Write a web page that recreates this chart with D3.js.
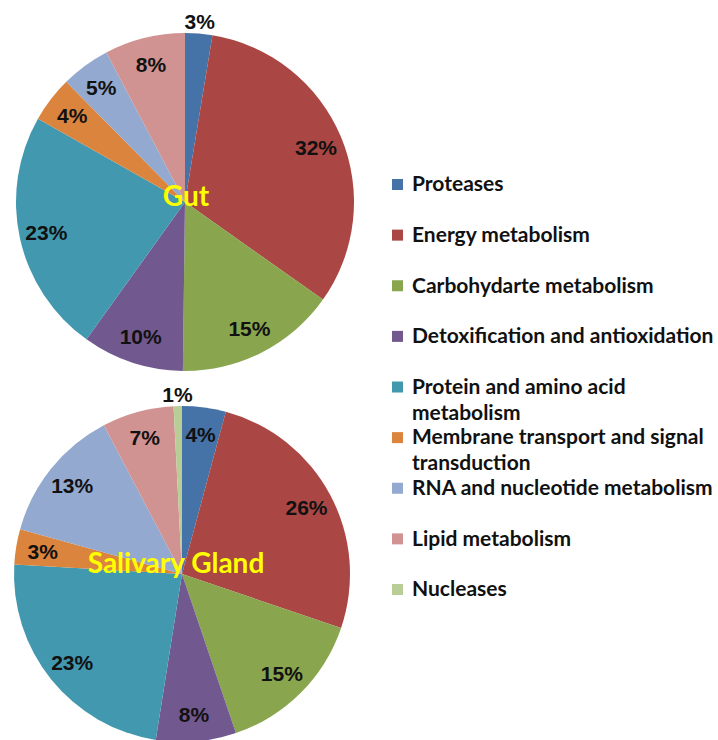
<!DOCTYPE html>
<html>
<head>
<meta charset="utf-8">
<script src="https://cdn.jsdelivr.net/npm/d3@7/dist/d3.min.js"></script>
<style>
  html, body { margin: 0; padding: 0; background: #fff; }
  svg { display: block; }
</style>
</head>
<body>
<svg id="chart" width="718" height="740"></svg>
<script>
// ---- data ----
const categories = [
  "Proteases",
  "Energy metabolism",
  "Carbohydarte metabolism",
  "Detoxification and antioxidation",
  "Protein and amino acid metabolism",
  "Membrane transport and signal transduction",
  "RNA and nucleotide metabolism",
  "Lipid metabolism",
  "Nucleases"
];
const legendLines = [
  ["Proteases"],
  ["Energy metabolism"],
  ["Carbohydarte metabolism"],
  ["Detoxification and antioxidation"],
  ["Protein and amino acid", "metabolism"],
  ["Membrane transport and signal", "transduction"],
  ["RNA and nucleotide metabolism"],
  ["Lipid metabolism"],
  ["Nucleases"]
];
const colors = ["#4572A7", "#AA4643", "#89A54E", "#71588F", "#4198AF", "#DB843D", "#93A9CF", "#D19392", "#B9CD96"];
const gutValues = [2.6, 32.2, 15.4, 9.7, 23.3, 4.4, 4.7, 7.7, 0];
const salivaryValues = [4.2, 26.0, 14.6, 7.7, 23.4, 3.4, 13.0, 6.9, 0.8];
const pieTitles = ["Gut", "Salivary Gland"];

// ---- layout ----
const svg = d3.select("#chart");
const color = d3.scaleOrdinal().domain(categories).range(colors);

const pies = [
  { title: pieTitles[0], values: gutValues, cx: 185, cy: 202, r: 169, titleDx: 1, titleDy: 4 },
  { title: pieTitles[1], values: salivaryValues, cx: 182, cy: 574, r: 168, titleDx: -6, titleDy: -1 }
];

const pie = d3.pie().sort(null).value(d => d.value);

pies.forEach(p => {
  const data = categories.map((c, i) => ({ cat: c, value: p.values[i] }));
  const arcs = pie(data).filter(a => a.data.value > 0);
  const g = svg.append("g").attr("transform", `translate(${p.cx},${p.cy})`);
  const arc = d3.arc().innerRadius(0).outerRadius(p.r);
  const labelIn = d3.arc().innerRadius(p.r * 0.84).outerRadius(p.r * 0.84);
  const labelOut = d3.arc().innerRadius(p.r + 12).outerRadius(p.r + 12);

  g.selectAll("path.slice").data(arcs).enter().append("path")
    .attr("class", "slice")
    .attr("d", arc)
    .attr("fill", d => color(d.data.cat));

  g.selectAll("text.pct").data(arcs).enter().append("text")
    .attr("class", "pct")
    .attr("transform", d => `translate(${(d.data.value < 3 ? labelOut : labelIn).centroid(d)})`)
    .attr("text-anchor", "middle")
    .attr("dominant-baseline", "central")
    .attr("font-family", "'Liberation Sans', Arial, sans-serif")
    .attr("font-weight", "bold")
    .attr("font-size", 21)
    .attr("fill", "#111")
    .text(d => Math.round(d.data.value) + "%");

  g.append("text")
    .attr("x", p.titleDx)
    .attr("y", p.titleDy)
    .attr("text-anchor", "middle")
    .attr("font-family", "Lato, 'Open Sans', sans-serif")
    .attr("font-weight", "bold")
    .attr("font-size", 28)
    .attr("fill", "#FFFF00")
    .text(p.title);
});

// ---- legend ----
const ly = d3.scaleLinear().domain([0, categories.length - 1]).range([184, 589]);
const legend = svg.append("g");
const items = legend.selectAll("g.item").data(categories).enter().append("g")
  .attr("class", "item")
  .attr("transform", (d, i) => `translate(392,${ly(i)})`);
items.append("rect")
  .attr("x", 0).attr("y", -5).attr("width", 11).attr("height", 11)
  .attr("fill", d => color(d));
items.append("text")
  .attr("x", 20)
  .attr("font-family", "Lato, 'Open Sans', sans-serif")
  .attr("font-weight", "bold")
  .attr("font-size", 21)
  .attr("fill", "#111")
  .selectAll("tspan").data((d, i) => legendLines[i]).enter().append("tspan")
  .attr("x", 20)
  .attr("dy", (d, j) => j === 0 ? "0.35em" : "26")
  .text(d => d);
</script>
</body>
</html>
